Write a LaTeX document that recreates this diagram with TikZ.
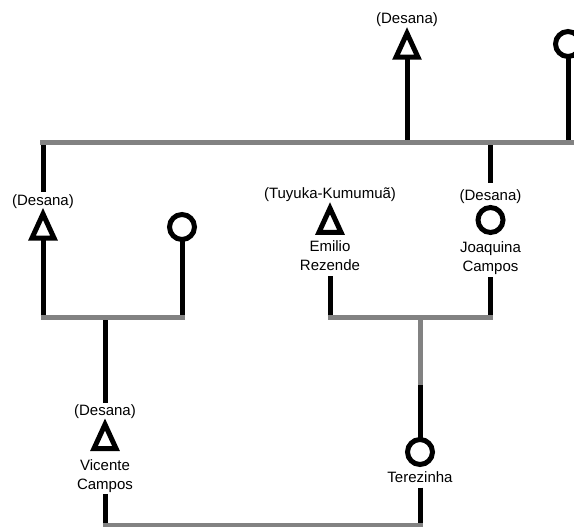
\documentclass[tikz,border=0pt]{standalone}
\usepackage{fontspec}
\setmainfont{Liberation Sans}
\definecolor{bargray}{RGB}{130,130,130}
\begin{document}
\begin{tikzpicture}[x=1pt,y=-1pt,
  lbl/.style={font=\fontsize{15}{19}\selectfont, inner sep=0pt, align=center, text=black},
  sym/.style={draw=none, inner sep=0pt, outer sep=0pt, minimum width=22pt, minimum height=24pt},
  tri/.style={line width=5pt, draw=black, line join=miter},
  circ/.style={circle, draw=black, line width=5pt, minimum size=25pt, inner sep=0pt, outer sep=0pt},
  blk/.style={line width=5pt, draw=black},
  gry/.style={line width=5pt, draw=bargray},
]
\useasboundingbox (0,0) rectangle (574,527);

% ---- top generation ----
\node[lbl] (l1) at (407,20) {(Desana)};
\node[sym] (t1) at (407,45.25) {};
\draw[tri] (t1.north) -- (t1.south east) -- (t1.south west) -- cycle;
\node[circ] (c1) at (568,44) {};

\coordinate (b1L) at (40,142.5);
\coordinate (b1R) at (578,142.5);
\coordinate (j1a) at (407,142.5);
\coordinate (j1b) at (568,142.5);
\coordinate (j1c) at (43,142.5);
\coordinate (j1d) at (490.5,142.5);

% ---- left couple ----
\node[lbl] (l2) at (43,202) {(Desana)};
\node[sym] (t2) at (43,226) {};
\draw[tri] (t2.north) -- (t2.south east) -- (t2.south west) -- cycle;
\node[circ] (c2) at (182,227) {};
\coordinate (b2L) at (40.5,317);
\coordinate (b2R) at (184.5,317);
\coordinate (j2a) at (43,317);
\coordinate (j2b) at (182,317);
\coordinate (j2c) at (105,317);

% ---- right couple ----
\node[lbl] (l3) at (330,195) {(Tuyuka-Kumumuã)};
\node[sym] (t3) at (330,220.25) {};
\draw[tri] (t3.north) -- (t3.south east) -- (t3.south west) -- cycle;
\node[lbl, anchor=north] (n3) at (330,240.6) {Emilio\\Rezende};
\node[lbl] (l4) at (490.5,197) {(Desana)};
\node[circ] (c3) at (490.5,220) {};
\node[lbl, anchor=north] (n4) at (490.5,241.5) {Joaquina\\Campos};
\coordinate (b3L) at (327.5,317);
\coordinate (b3R) at (493,317);
\coordinate (j3a) at (330,317);
\coordinate (j3b) at (490.5,317);
\coordinate (j3c) at (420,317);
\coordinate (j3d) at (420,385);

% ---- children ----
\node[lbl] (l5) at (105,412) {(Desana)};
\node[sym] (t4) at (105,436.5) {};
\draw[tri] (t4.north) -- (t4.south east) -- (t4.south west) -- cycle;
\node[lbl, anchor=north] (n5) at (105,459.5) {Vicente\\Campos};
\node[circ] (c4) at (420,452) {};
\node[lbl] (n6) at (420,477) {Terezinha};
\coordinate (b4L) at (102.5,525.5);
\coordinate (b4R) at (422.5,525.5);
\coordinate (j4a) at (105,525.5);
\coordinate (j4b) at (420,525.5);

% ---- black connectors ----
\draw[blk] (t1.south) -- (j1a);
\draw[blk] (c1.south) -- (j1b);
\draw[blk, shorten >=3pt] (j1c) -- (l2.north);
\draw[blk, shorten >=7pt] (j1d) -- (l4.north);
\draw[blk] (t2.south) -- (j2a);
\draw[blk] (c2.south) -- (j2b);
\draw[blk, shorten >=2pt] (j2c) -- (l5.north);
\draw[blk, shorten <=5pt] (n3.south) -- (j3a);
\draw[blk, shorten <=2.5pt] (n4.south) -- (j3b);
\draw[blk] (j3d) -- (c4.north);
\draw[blk, shorten <=1pt] (n5.south) -- (j4a);
\draw[blk, shorten <=5pt] (n6.south) -- (j4b);

% ---- gray bars ----
\draw[gry] (b1L) -- (b1R);
\draw[gry] (b2L) -- (b2R);
\draw[gry] (b3L) -- (b3R);
\draw[gry] (j3c) -- (j3d);
\draw[gry] (b4L) -- (b4R);
\end{tikzpicture}
\end{document}
